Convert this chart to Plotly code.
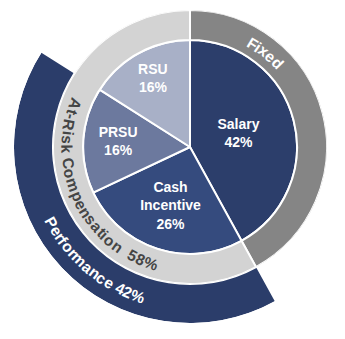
import numpy as np
import plotly.graph_objects as go

# ---------------- data ----------------
categories = ["Salary", "Cash Incentive", "PRSU", "RSU"]
shares = [42, 26, 16, 16]

group_labels = ["Fixed", "At-Risk Compensation"]
group_members = [["Salary"], ["Cash Incentive", "PRSU", "RSU"]]
group_shares = [42, 58]

performance_label = "Performance"
performance_members = ["Cash Incentive", "PRSU"]
performance_share = 42

# ---------------- style ----------------
W_FIG, H_FIG = 345, 339
CX, CY = 190, 147          # centre in px (from top-left)
R_PIE = 107
R_RING = 137
R_ARC_IN, R_ARC_OUT = 138, 176

slice_colors = ["#2c3e6b", "#354b7e", "#6c799e", "#a8b0c7"]
group_colors = ["#858585", "#d3d3d3"]
perf_color = "#2b3d6a"
FONT = "Liberation Sans, Arial, sans-serif"

# ---------------- angles from data ----------------
total = sum(shares)
ends = np.cumsum(shares) / total * 360.0
starts = ends - np.array(shares) / total * 360.0
seg = {c: (s, e) for c, s, e in zip(categories, starts, ends)}

g_start = [min(seg[m][0] for m in mem) for mem in group_members]
g_end = [max(seg[m][1] for m in mem) for mem in group_members]

p_start = min(seg[m][0] for m in performance_members)
p_end = max(seg[m][1] for m in performance_members)

fig = go.Figure()

# inner pie
fig.add_trace(go.Barpolar(
    theta=[(seg[c][0] + seg[c][1]) / 2 for c in categories],
    width=[seg[c][1] - seg[c][0] for c in categories],
    r=[R_PIE] * len(categories), base=[0] * len(categories),
    marker=dict(color=slice_colors, line=dict(color="white", width=2)),
    subplot="polar", hoverinfo="skip"))

# group ring
fig.add_trace(go.Barpolar(
    theta=[(s + e) / 2 for s, e in zip(g_start, g_end)],
    width=[e - s for s, e in zip(g_start, g_end)],
    r=[R_RING - R_PIE] * 2, base=[R_PIE] * 2,
    marker=dict(color=group_colors, line=dict(color="white", width=2)),
    subplot="polar", hoverinfo="skip"))

# inner labels
label_r = [50, 63, 72, 77]
fig.add_trace(go.Scatterpolar(
    theta=[(seg[c][0] + seg[c][1]) / 2 for c in categories],
    r=label_r, mode="text",
    text=[f"{c.replace(' ', '<br>')}<br>{v}%" for c, v in zip(categories, shares)],
    textfont=dict(family=FONT, size=14, color="white", weight="bold"),
    subplot="polar", hoverinfo="skip"))

# performance arc (second polar with a sector)
fig.add_trace(go.Barpolar(
    theta=[(p_start + p_end) / 2], width=[p_end - p_start],
    r=[R_ARC_OUT - R_ARC_IN], base=[R_ARC_IN],
    marker=dict(color=perf_color, line=dict(color="white", width=0)),
    subplot="polar2", hoverinfo="skip"))


def sector_bbox(sector):
    s0, s1 = sector
    arc = s1 - s0
    a0 = s0 % 360
    a1 = a0 + arc
    ax0, ay0 = np.cos(np.deg2rad(a0)), np.sin(np.deg2rad(a0))
    ax1, ay1 = np.cos(np.deg2rad(a1)), np.sin(np.deg2rad(a1))
    if (a0 <= 90 and a1 >= 90) or (a0 > 90 and a1 >= 450):
        y1 = 1
    elif ay0 <= 0 and ay1 <= 0:
        y1 = 0
    else:
        y1 = max(ay0, ay1)
    if (a0 <= 180 and a1 >= 180) or (a0 > 180 and a1 >= 540):
        x0 = -1
    elif ax0 >= 0 and ax1 >= 0:
        x0 = 0
    else:
        x0 = min(ax0, ax1)
    if (a0 <= 270 and a1 >= 270) or (a0 > 270 and a1 >= 630):
        y0 = -1
    elif ay0 >= 0 and ay1 >= 0:
        y0 = 0
    else:
        y0 = min(ay0, ay1)
    if a1 >= 360:
        x1 = 1
    elif ax0 <= 0 and ax1 <= 0:
        x1 = 0
    else:
        x1 = max(ax0, ax1)
    return x0, y0, x1, y1


sector2 = [90 - p_end - 1, 90 - p_start + 1]
bx0, by0, bx1, by1 = sector_bbox(sector2)
left = CX + R_ARC_OUT * bx0
right = CX + R_ARC_OUT * bx1
top = CY - R_ARC_OUT * by1
bottom = CY - R_ARC_OUT * by0

hidden_ang = dict(visible=False, rotation=90, direction="clockwise",
                  showgrid=False, showline=False, showticklabels=False, ticks="")

fig.update_layout(
    width=W_FIG, height=H_FIG, margin=dict(l=0, r=0, t=0, b=0),
    paper_bgcolor="white", plot_bgcolor="white", showlegend=False,
    polar=dict(
        domain=dict(x=[(CX - R_RING) / W_FIG, (CX + R_RING) / W_FIG],
                    y=[(H_FIG - CY - R_RING) / H_FIG, (H_FIG - CY + R_RING) / H_FIG]),
        bgcolor="rgba(0,0,0,0)",
        radialaxis=dict(visible=False, range=[0, R_RING], showgrid=False,
                        showline=False, showticklabels=False, ticks=""),
        angularaxis=hidden_ang),
    polar2=dict(
        domain=dict(x=[left / W_FIG, right / W_FIG],
                    y=[(H_FIG - bottom) / H_FIG, (H_FIG - top) / H_FIG]),
        sector=sector2,
        bgcolor="rgba(0,0,0,0)",
        radialaxis=dict(visible=False, range=[0, R_ARC_OUT], showgrid=False,
                        showline=False, showticklabels=False, ticks=""),
        angularaxis=hidden_ang),
)

# ---------------- curved ring text ----------------
ARIAL_BOLD = {" ": 278, "%": 889, "-": 333, "A": 722, "C": 722, "F": 611, "P": 667,
              "R": 722, "a": 556, "c": 556, "d": 611, "e": 556, "f": 333, "i": 278,
              "k": 556, "m": 889, "n": 611, "o": 611, "p": 611, "r": 389, "s": 556,
              "t": 333, "x": 556}


def curved_text(text, r, a_first, a_last, color, size):
    widths = [ARIAL_BOLD.get(ch, 556) for ch in text]
    pos, acc = [], 0
    for w in widths:
        pos.append(acc + w / 2)
        acc += w
    p0, p1 = pos[0], pos[-1]
    ccw = a_last < a_first
    anns = []
    for ch, p in zip(text, pos):
        if ch == " ":
            continue
        a = a_first + (a_last - a_first) * (p - p0) / (p1 - p0)
        rad = np.deg2rad(a)
        x = (CX + r * np.sin(rad)) / W_FIG
        y = 1 - (CY - r * np.cos(rad)) / H_FIG
        ang = a - 180 if ccw else a
        anns.append(dict(text=ch, x=x, y=y, xref="paper", yref="paper",
                         showarrow=False, xanchor="center", yanchor="middle",
                         textangle=ang,
                         font=dict(family=FONT, size=size, color=color, weight="bold")))
    return anns


annotations = []
annotations += curved_text(f"{group_labels[1]}  {group_shares[1]}%", 123, 290.5, 198.4, "#454545", 15.5)
annotations += curved_text(group_labels[0], 121, 31.0, 46.0, "white", 15.5)
annotations += curved_text(f"{performance_label} {performance_share}%", 158, 241.4, 199.1, "white", 15.5)
fig.update_layout(annotations=annotations)

fig.write_html("out.html")
